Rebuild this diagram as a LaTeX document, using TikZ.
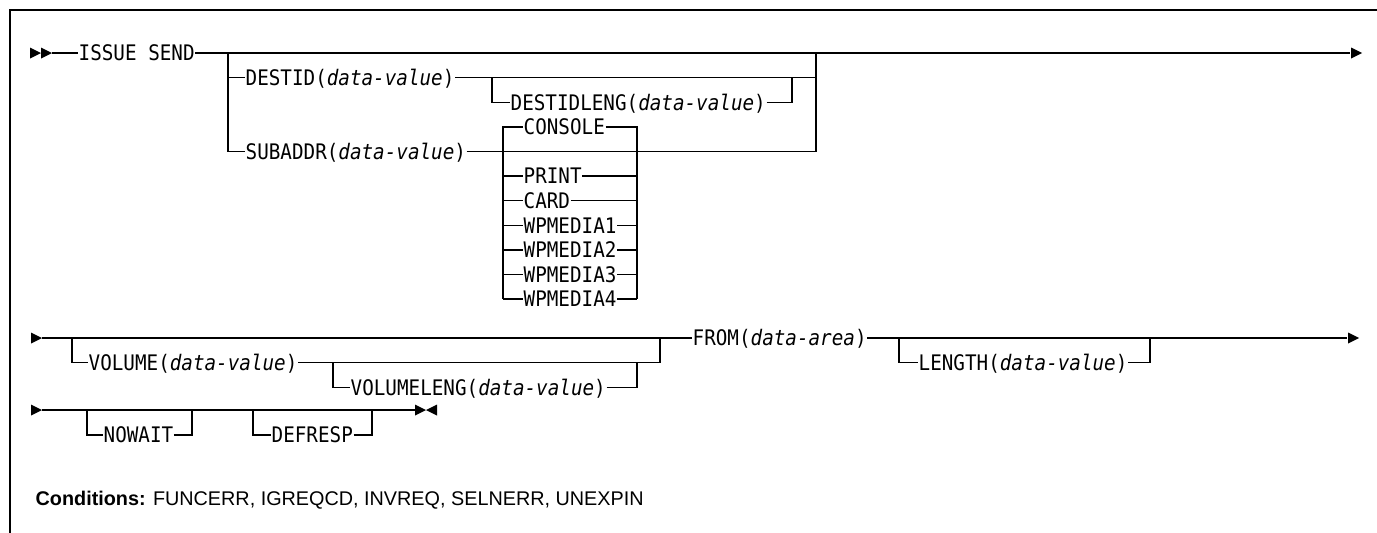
\documentclass[tikz,border=0pt]{standalone}
\usepackage{fontspec}
\setmainfont{Liberation Sans}
\newfontfamily\synfont{DejaVu Sans Mono}[ItalicFont={DejaVu Sans Mono Oblique},FakeStretch=0.9]
\newcommand\dval{\textit{data-value}}
\newcommand\darea{\textit{data-area}}
\begin{document}
\begin{tikzpicture}[x=1pt,y=-1pt,
  line width=1.4pt,
  kw/.style={font={\synfont\fontsize{21.4}{22}\selectfont},inner sep=0pt,anchor=west,text height=15.6pt,text depth=0pt},
  rtri/.pic={\fill (-11,-5.5) -- (0,0) -- (-11,5.5) -- cycle;},
  ltri/.pic={\fill (11,-5.5) -- (0,0) -- (11,5.5) -- cycle;},
  frame/.style={line width=1.6pt}]
\useasboundingbox (0,0) rectangle (1377,533);
% frame
\coordinate (fa) at (10,533);
\coordinate (fb) at (10,10);
\coordinate (fc) at (1377,10);
\draw[frame] (fa) -- (fb) -- (fc);

%%%%%%%% Row 1
\pic at (41,53) {rtri};
\pic at (52,53) {rtri};
\coordinate (s1) at (52,53);
\coordinate (e1) at (1350,53);
\pic at (1362,53) {rtri};
\node[kw] (issue) at (78,53) {ISSUE SEND};
\draw (s1) -- (issue.west);
\draw (issue.east) -- (e1);
% branch DESTID / SUBADDR
\coordinate (b1) at (228,53);
\coordinate (b1d) at (228,77.6);
\coordinate (b1s) at (228,151.4);
\coordinate (j1) at (816,53);
\coordinate (j1d) at (816,77.6);
\coordinate (j1s) at (816,151.4);
\node[kw] (destid) at (245,77.6) {DESTID(\dval)};
\node[kw] (subaddr) at (245,151.4) {SUBADDR(\dval)};
\draw (b1) -- (b1s) -- (subaddr.west);
\draw (b1d) -- (destid.west);
\draw (destid.east) -- (j1d);
\draw (subaddr.east) -- (j1s) -- (j1);
% DESTIDLENG
\coordinate (dl1) at (492,77.6);
\coordinate (dl1b) at (492,102.2);
\coordinate (dl2) at (792,77.6);
\coordinate (dl2b) at (792,102.2);
\node[kw] (destidleng) at (510,102.2) {DESTIDLENG(\dval)};
\draw (dl1) -- (dl1b) -- (destidleng.west);
\draw (destidleng.east) -- (dl2b) -- (dl2);
% CONSOLE group
\coordinate (c1t) at (503,126.8);
\coordinate (c1b) at (503,299);
\coordinate (c2t) at (637,126.8);
\coordinate (c2b) at (637,299);
\node[kw] (console) at (523,126.8) {CONSOLE};
\draw (c1b) -- (c1t) -- (console.west);
\draw (console.east) -- (c2t) -- (c2b);
\node[kw] (print) at (523,176) {PRINT};
\node[kw] (card) at (523,200.6) {CARD};
\node[kw] (wp1) at (523,225.2) {WPMEDIA1};
\node[kw] (wp2) at (523,249.8) {WPMEDIA2};
\node[kw] (wp3) at (523,274.4) {WPMEDIA3};
\node[kw] (wp4) at (523,299) {WPMEDIA4};
\foreach \n in {print,card,wp1,wp2,wp3,wp4}{
  \draw (\n.west -| c1t) -- (\n.west);
  \draw (\n.east) -- (\n.east -| c2t);
}

%%%%%%%% Row 2
\pic at (42,338) {rtri};
\coordinate (s2) at (42,338);
\coordinate (e2) at (1347,338);
\pic at (1359,338) {rtri};
\node[kw] (from) at (692,338) {FROM(\darea)};
\draw (s2) -- (from.west);
\draw (from.east) -- (e2);
% VOLUME
\coordinate (v1) at (72,338);
\coordinate (v1b) at (72,362.6);
\coordinate (v2) at (660,338);
\coordinate (v2b) at (660,362.6);
\node[kw] (volume) at (88,362.6) {VOLUME(\dval)};
\draw (v1) -- (v1b) -- (volume.west);
\draw (volume.east) -- (v2b) -- (v2);
% VOLUMELENG
\coordinate (vl1) at (333,362.6);
\coordinate (vl1b) at (333,387.2);
\coordinate (vl2) at (637,362.6);
\coordinate (vl2b) at (637,387.2);
\node[kw] (volumeleng) at (350,387.2) {VOLUMELENG(\dval)};
\draw (vl1) -- (vl1b) -- (volumeleng.west);
\draw (volumeleng.east) -- (vl2b) -- (vl2);
% LENGTH
\coordinate (l1) at (899,338);
\coordinate (l1b) at (899,362.6);
\coordinate (l2) at (1150,338);
\coordinate (l2b) at (1150,362.6);
\node[kw] (length) at (918,362.6) {LENGTH(\dval)};
\draw (l1) -- (l1b) -- (length.west);
\draw (length.east) -- (l2b) -- (l2);

%%%%%%%% Row 3
\pic at (42,410) {rtri};
\coordinate (s3) at (42,410);
\coordinate (e3) at (415,410);
\pic at (426,410) {rtri};
\pic at (426,410) {ltri};
\draw (s3) -- (e3);
% NOWAIT
\coordinate (n1) at (87,410);
\coordinate (n1b) at (87,435);
\coordinate (n2) at (192,410);
\coordinate (n2b) at (192,435);
\node[kw] (nowait) at (103,435) {NOWAIT};
\draw (n1) -- (n1b) -- (nowait.west);
\draw (nowait.east) -- (n2b) -- (n2);
% DEFRESP
\coordinate (d1) at (253,410);
\coordinate (d1b) at (253,435);
\coordinate (d2) at (372,410);
\coordinate (d2b) at (372,435);
\node[kw] (defresp) at (271,435) {DEFRESP};
\draw (d1) -- (d1b) -- (defresp.west);
\draw (defresp.east) -- (d2b) -- (d2);

%%%%%%%% Conditions
\node[anchor=base west,inner sep=0pt,font={\fontsize{19.8}{22}\selectfont}] (cond) at (35,505)
  {\textbf{Conditions:} FUNCERR, IGREQCD, INVREQ, SELNERR, UNEXPIN};
\end{tikzpicture}
\end{document}
